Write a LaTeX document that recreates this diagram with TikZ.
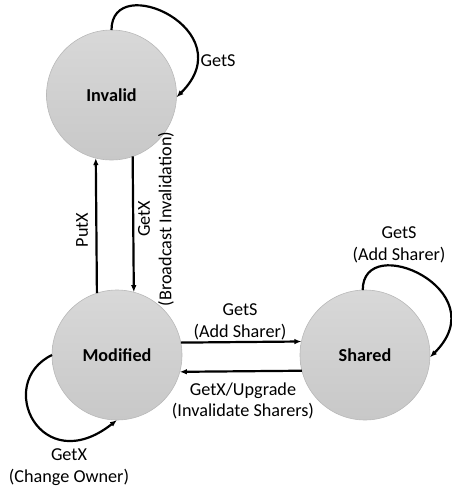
\documentclass[tikz,border=0pt]{standalone}
\usepackage{fontspec}
\setmainfont{Carlito}
\usetikzlibrary{arrows.meta}
\definecolor{circtop}{RGB}{216,216,216}
\definecolor{circbot}{RGB}{200,200,200}
\definecolor{circline}{RGB}{185,185,185}
\begin{document}
\begin{tikzpicture}[x=1pt,y=-1pt,
  every node/.style={font=\fontsize{18.2}{21.5}\selectfont},
  statenode/.style={circle, minimum size=130pt, inner sep=0pt, outer sep=0pt,
    draw=circline, line width=0.6pt, top color=circtop, bottom color=circbot,
    font=\fontsize{18.2}{21.5}\selectfont\bfseries},
  lbl/.style={align=center, inner sep=0pt},
  arr/.style={line width=2.2pt, -{Latex[length=7pt,width=5.5pt]}}]
\useasboundingbox (0,0) rectangle (451,491);
\node[statenode] (Inv) at (111.5,95) {Invalid};
\node[statenode] (Mod) at (117,355) {Modified};
\node[statenode] (Sh) at (365,355) {Shared};
% vertical
\draw[arr] (Mod.108.9) -- (Inv.256.2);
\draw[arr] (Inv.289.3) -- (Mod.75.7);
% horizontal
\draw[arr] (Mod.11.5) -- (Sh.168.5);
\draw[arr] (Sh.194.3) -- (Mod.345.7);
% loops
\draw[arr] (Inv.90) .. controls +(0,-60) and +(68,-67) .. (Inv.-2);
\draw[arr] (Sh.92) .. controls +(0,-60) and +(68,-67) .. (Sh.-2);
\draw[arr] (Mod.180) .. controls +(-58,28) and +(-76,60) .. (Mod.270);
% labels
\node[lbl] (lGetSInv) at (218,61) {GetS};
\node[lbl] (lPutX) at (82,230) [rotate=90] {PutX};
\node[lbl] (lGetXInv) at (156,219) [rotate=90] {GetX\\(Broadcast Invalidation)};
\node[lbl] (lGetSMod) at (240,322) {GetS\\(Add Sharer)};
\node[lbl] (lGetXSh) at (243,401) {GetX/Upgrade\\(Invalidate Sharers)};
\node[lbl] (lGetSSh) at (399,245) {GetS\\(Add Sharer)};
\node[lbl] (lGetXMod) at (69,467) {GetX\\(Change Owner)};
\end{tikzpicture}
\end{document}
